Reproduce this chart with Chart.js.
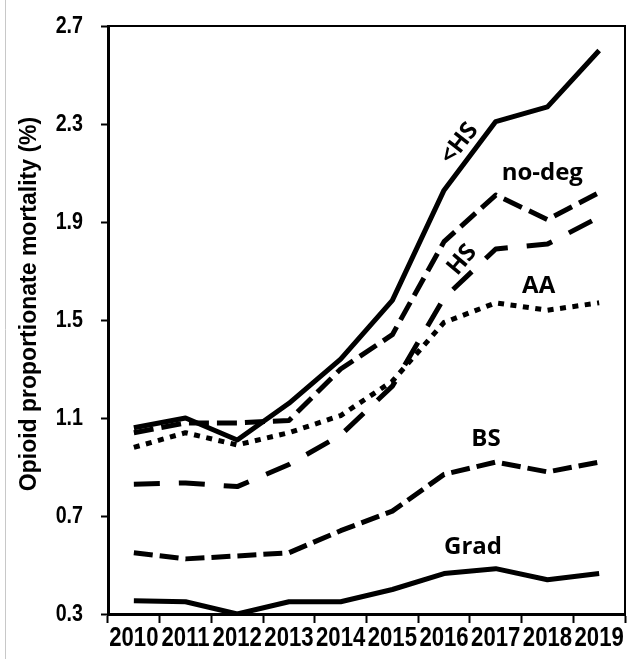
<!DOCTYPE html>
<html lang="en">
<head>
<meta charset="UTF-8" />
<title>Opioid proportionate mortality</title>
<script src="https://cdn.jsdelivr.net/npm/chart.js"></script>
<style>
  html, body { margin: 0; padding: 0; background: #fff; }
</style>
</head>
<body>
<canvas id="chart" width="629" height="659"></canvas>
<script>
// years on the x axis
const YEARS = ["2010", "2011", "2012", "2013", "2014", "2015", "2016", "2017", "2018", "2019"];

// opioid proportionate mortality (%) by education level
const LESS_HS = [1.06, 1.10, 1.01, 1.16, 1.34, 1.58, 2.03, 2.31, 2.37, 2.60];
const NO_DEG = [1.04, 1.08, 1.08, 1.09, 1.30, 1.44, 1.82, 2.01, 1.91, 2.02];
const HS = [0.83, 0.835, 0.82, 0.91, 1.03, 1.23, 1.59, 1.79, 1.81, 1.92];
const AA = [0.98, 1.04, 0.99, 1.04, 1.11, 1.25, 1.49, 1.57, 1.54, 1.57];
const BS = [0.55, 0.525, 0.537, 0.55, 0.64, 0.72, 0.87, 0.92, 0.88, 0.92];
const GRAD = [0.354, 0.35, 0.30, 0.35, 0.35, 0.40, 0.465, 0.485, 0.44, 0.465];

const Y_TICKS = [0.3, 0.7, 1.1, 1.5, 1.9, 2.3, 2.7];

// in-chart labels, anchored in data units (category index, value)
const LINE_LABELS = [
  { text: "<HS", at: 6.3, value: 2.22, angle: -52 },
  { text: "no-deg", at: 7.9, value: 2.1, angle: 0 },
  { text: "HS", at: 6.35, value: 1.745, angle: -50 },
  { text: "AA", at: 7.83, value: 1.64, angle: 0 },
  { text: "BS", at: 6.81, value: 1.014, angle: 0 },
  { text: "Grad", at: 6.56, value: 0.573, angle: 0 },
];

// no narrow face installed: squeeze Liberation Sans Bold like Arial Narrow
const X_TICK_FONT = "bold 27px 'Liberation Sans', Arial, sans-serif";
const Y_TICK_FONT = "bold 24px 'Liberation Sans', Arial, sans-serif";
const SQUEEZE = 0.82;

function series(label, data, dash) {
  return {
    label: label,
    data: data,
    borderColor: "#000",
    borderWidth: 5,
    borderDash: dash,
    borderCapStyle: "butt",
    borderJoinStyle: "round",
    pointRadius: 0,
    tension: 0,
    fill: false,
  };
}

function narrowText(ctx, text, px, py, align) {
  ctx.save();
  ctx.translate(px, py);
  ctx.scale(SQUEEZE, 1);
  ctx.textAlign = align;
  ctx.fillText(text, 0, 0);
  ctx.restore();
}

const extras = {
  id: "extras",
  beforeDraw(chart) {
    const ctx = chart.ctx;
    ctx.save();
    ctx.strokeStyle = "#c8c8c8";
    ctx.lineWidth = 1;
    ctx.beginPath();
    ctx.moveTo(5.5, 0);
    ctx.lineTo(5.5, chart.height);
    ctx.stroke();
    ctx.restore();
  },
  afterDraw(chart) {
    const { ctx, chartArea: a } = chart;
    const x = chart.scales.x;
    const y = chart.scales.y;
    ctx.save();
    // frame on top and right
    ctx.strokeStyle = "#000";
    ctx.lineWidth = 2;
    ctx.beginPath();
    ctx.moveTo(a.left, a.top);
    ctx.lineTo(a.right, a.top);
    ctx.lineTo(a.right, a.bottom);
    ctx.stroke();

    ctx.fillStyle = "#000";
    ctx.textBaseline = "middle";

    // tick labels
    ctx.font = X_TICK_FONT;
    x.ticks.forEach((t, i) => {
      narrowText(ctx, t.label, x.getPixelForTick(i), a.bottom + 25, "center");
    });
    ctx.font = Y_TICK_FONT;
    y.ticks.forEach((t) => {
      narrowText(ctx, Number(t.value).toFixed(1), a.left - 25, y.getPixelForValue(t.value), "right");
    });

    // line labels
    ctx.textAlign = "center";
    ctx.font = "bold 24px 'Open Sans', sans-serif";
    LINE_LABELS.forEach((l) => {
      ctx.save();
      ctx.translate(x.getPixelForValue(l.at), y.getPixelForValue(l.value));
      ctx.rotate((l.angle * Math.PI) / 180);
      ctx.fillText(l.text, 0, 0);
      ctx.restore();
    });

    // y axis title
    ctx.save();
    ctx.translate(30, (a.top + a.bottom) / 2 - 16);
    ctx.rotate(-Math.PI / 2);
    ctx.font = "bold 23px 'Liberation Sans', Arial, sans-serif";
    ctx.fillText("Opioid proportionate mortality (%)", 0, 0);
    ctx.restore();
    ctx.restore();
  },
};

new Chart(document.getElementById("chart"), {
  type: "line",
  data: {
    labels: YEARS,
    datasets: [
      series("<HS", LESS_HS, []),
      series("no-deg", NO_DEG, [20, 8]),
      series("HS", HS, [26, 19]),
      series("AA", AA, [6, 6.5]),
      series("BS", BS, [19, 7]),
      series("Grad", GRAD, []),
    ],
  },
  options: {
    responsive: false,
    animation: false,
    devicePixelRatio: 1,
    layout: { padding: { top: 26, right: 4, left: 0, bottom: 0 } },
    plugins: {
      legend: { display: false },
      tooltip: { enabled: false },
    },
    scales: {
      x: {
        offset: true,
        afterFit(scale) { scale.height = 45; },
        grid: {
          offset: true,
          drawOnChartArea: false,
          drawTicks: true,
          tickLength: 9,
          tickWidth: 2,
          tickColor: "#000",
        },
        border: { display: true, color: "#000", width: 3 },
        ticks: {
          color: "rgba(0,0,0,0)",
          maxRotation: 0,
          autoSkip: false,
        },
      },
      y: {
        min: 0.3,
        max: 2.7,
        afterFit(scale) { scale.width = 108; },
        afterBuildTicks(scale) {
          scale.ticks = Y_TICKS.map((v) => ({ value: v }));
        },
        grid: {
          drawOnChartArea: false,
          drawTicks: true,
          tickLength: 7,
          tickWidth: 2,
          tickColor: "#000",
        },
        border: { display: true, color: "#000", width: 3 },
        ticks: {
          color: "rgba(0,0,0,0)",
        },
      },
    },
  },
  plugins: [extras],
});
</script>
</body>
</html>
